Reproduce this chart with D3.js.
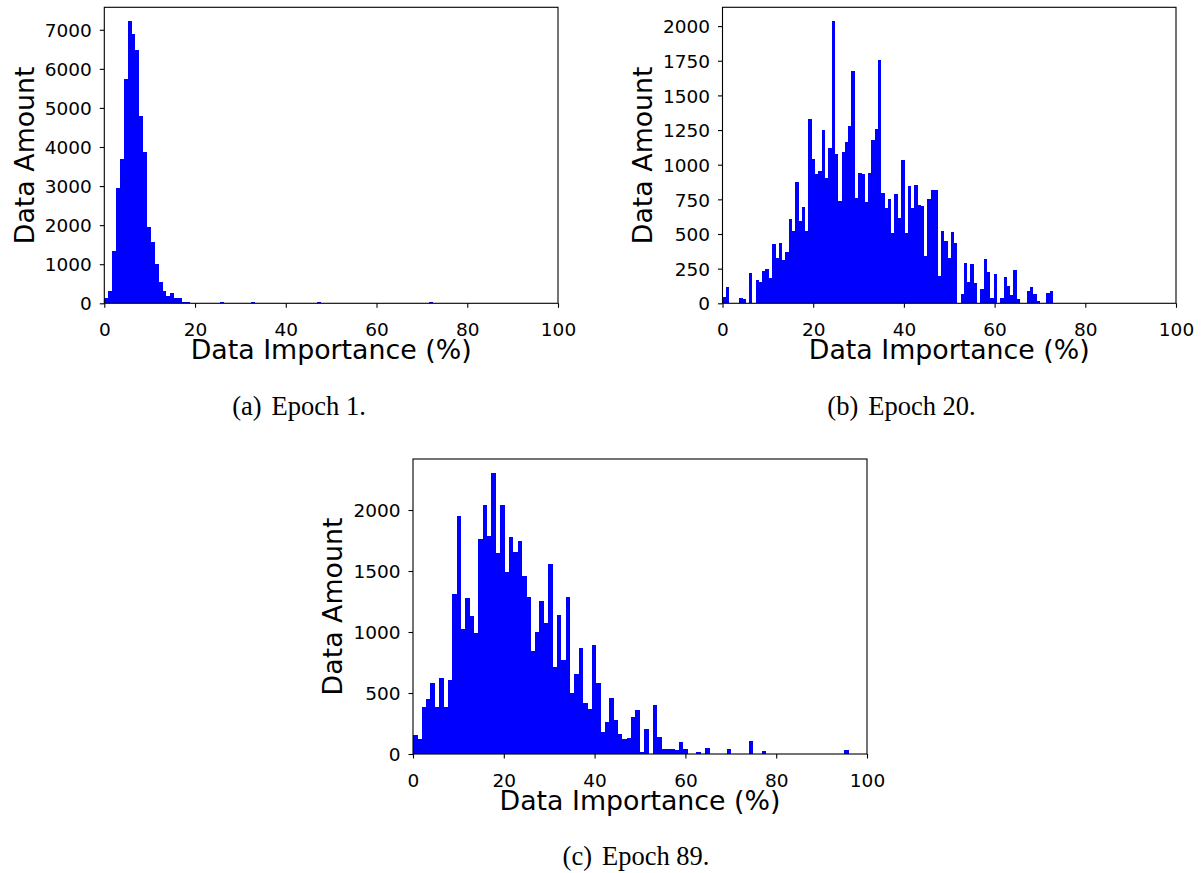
<!DOCTYPE html>
<html>
<head>
<meta charset="utf-8">
<script src="https://cdn.jsdelivr.net/npm/d3@7"></script>
<style>
  html, body { margin: 0; padding: 0; background: #fff; }
  svg { display: block; }
</style>
</head>
<body>
<svg id="chart" width="1203" height="873"></svg>
<script>
// ---------------- DATA ----------------
const xTickValues = [0, 20, 40, 60, 80, 100];

const yTicksEpoch1 = [0, 1000, 2000, 3000, 4000, 5000, 6000, 7000];
const yTicksEpoch20 = [0, 250, 500, 750, 1000, 1250, 1500, 1750, 2000];
const yTicksEpoch89 = [0, 500, 1000, 1500, 2000];

// histogram ranges (% importance) — 100 equal bins each
const rangeEpoch1 = [0, 85.3];
const rangeEpoch20 = [0, 72.9];
const rangeEpoch89 = [0, 96.0];

const countsEpoch1 = [
  128, 316, 1342, 2949, 3701, 5752, 7214, 6880, 6470, 4803,
  3880, 1957, 1564, 1009, 547, 316, 188, 265, 137, 137,
  34, 34, 0, 0, 0, 0, 0, 0, 0, 0,
  25, 0, 0, 0, 0, 0, 0, 0, 25, 0,
  0, 0, 0, 0, 0, 0, 0, 0, 0, 0,
  0, 0, 0, 0, 0, 25, 0, 0, 0, 0,
  0, 0, 0, 0, 0, 0, 0, 0, 0, 0,
  0, 0, 0, 0, 0, 0, 0, 0, 0, 0,
  0, 0, 0, 0, 25, 0, 0, 0, 0, 0,
  0, 0, 0, 0, 0, 0, 0, 0, 0, 1
];

const countsEpoch20 = [
  48, 120, 0, 0, 0, 39, 31, 0, 219, 0,
  169, 154, 234, 248, 183, 429, 328, 436, 313, 371,
  610, 523, 877, 595, 696, 523, 1333, 1043, 935, 957,
  1253, 906, 1123, 2034, 1080, 740, 1094, 1166, 1282, 1673,
  762, 942, 935, 733, 942, 1181, 1260, 1759, 798, 689,
  754, 509, 790, 617, 1036, 509, 848, 689, 856, 711,
  704, 342, 754, 819, 819, 198, 523, 451, 328, 516,
  436, 0, 67, 292, 154, 284, 147, 0, 104, 321,
  227, 39, 212, 0, 39, 190, 125, 60, 241, 31,
  0, 0, 89, 118, 67, 17, 0, 0, 75, 89
];

const countsEpoch89 = [
  156, 123, 385, 451, 582, 385, 623, 385, 607, 1311,
  1951, 1025, 1279, 1131, 992, 1762, 2041, 1787, 2303, 1648,
  2041, 1492, 1779, 1656, 1746, 1459, 1287, 844, 1000, 1254,
  1074, 1557, 713, 1139, 770, 1287, 500, 656, 869, 418,
  369, 893, 582, 180, 262, 459, 279, 164, 123, 131,
  303, 361, 16, 205, 0, 402, 139, 41, 41, 41,
  33, 98, 41, 0, 0, 16, 0, 49, 0, 0,
  0, 0, 41, 0, 0, 0, 0, 107, 0, 0,
  25, 0, 0, 0, 0, 0, 0, 0, 0, 0,
  0, 0, 0, 0, 0, 0, 0, 0, 0, 33
];

const xLabel = "Data Importance (%)";
const yLabel = "Data Amount";
const captions = [["(a)", "Epoch 1."], ["(b)", "Epoch 20."], ["(c)", "Epoch 89."]];

// ---------------- LAYOUT ----------------
const panels = [
  { x0: 104.3, x1: 558, y0: 7.3, y1: 303.3, counts: countsEpoch1, range: rangeEpoch1, yTicks: yTicksEpoch1, cap: captions[0], capX: 299, capY: 415 },
  { x0: 722.5, x1: 1176, y0: 7.3, y1: 303.3, counts: countsEpoch20, range: rangeEpoch20, yTicks: yTicksEpoch20, cap: captions[1], capX: 901.5, capY: 415 },
  { x0: 413, x1: 867, y0: 459, y1: 754, counts: countsEpoch89, range: rangeEpoch89, yTicks: yTicksEpoch89, cap: captions[2], capX: 636, capY: 865 }
];

const svg = d3.select("#chart");

panels.forEach(p => {
  const g = svg.append("g");
  const x = d3.scaleLinear().domain([0, 100]).range([p.x0, p.x1]);
  const y = d3.scaleLinear().domain([0, d3.max(p.counts) * 1.05]).range([p.y1, p.y0]);
  const n = p.counts.length;
  const bw = (p.range[1] - p.range[0]) / n;
  const bins = p.counts.map((c, i) => ({ lo: p.range[0] + i * bw, hi: p.range[0] + (i + 1) * bw, c }));

  g.append("g")
    .attr("shape-rendering", "crispEdges")
    .selectAll("rect")
    .data(bins.filter(b => b.c > 0))
    .join("rect")
    .attr("x", b => x(b.lo))
    .attr("width", b => x(b.hi) - x(b.lo) + 0.2)
    .attr("y", b => y(b.c))
    .attr("height", b => y(0) - y(b.c))
    .attr("fill", "#0000ff");

  // x axis
  const xa = g.append("g")
    .attr("transform", `translate(0,${p.y1})`)
    .call(d3.axisBottom(x).tickValues(xTickValues).tickSize(4.5).tickSizeOuter(0));
  xa.select(".domain").remove();
  xa.selectAll(".tick line").attr("stroke", "#000").attr("stroke-width", 1.1);
  xa.selectAll(".tick text")
    .attr("font-family", "DejaVu Sans")
    .attr("font-size", 18.5)
    .attr("fill", "#000")
    .attr("dy", null)
    .attr("y", 33);

  // y axis
  const ya = g.append("g")
    .attr("transform", `translate(${p.x0},0)`)
    .call(d3.axisLeft(y).tickValues(p.yTicks).tickSize(4.5).tickSizeOuter(0).tickFormat(d3.format("d")));
  ya.select(".domain").remove();
  ya.selectAll(".tick line").attr("stroke", "#000").attr("stroke-width", 1.1);
  ya.selectAll(".tick text")
    .attr("font-family", "DejaVu Sans")
    .attr("font-size", 18.5)
    .attr("fill", "#000")
    .attr("x", -12.5)
    .attr("dy", "0.36em");

  // frame
  g.append("rect")
    .attr("x", p.x0).attr("y", p.y0)
    .attr("width", p.x1 - p.x0).attr("height", p.y1 - p.y0)
    .attr("fill", "none").attr("stroke", "#000").attr("stroke-width", 1.1);

  // axis labels
  const cx = (p.x0 + p.x1) / 2;
  g.append("text")
    .attr("x", cx).attr("y", p.y1 + 55.7)
    .attr("text-anchor", "middle")
    .attr("font-family", "DejaVu Sans")
    .attr("font-size", 26.8)
    .attr("fill", "#000")
    .text(xLabel);

  const cy = (p.y0 + p.y1) / 2;
  g.append("text")
    .attr("transform", `translate(${p.x0 - 70.8},${cy}) rotate(-90)`)
    .attr("text-anchor", "middle")
    .attr("font-family", "DejaVu Sans")
    .attr("font-size", 26.8)
    .attr("fill", "#000")
    .text(yLabel);

  // caption
  const t = svg.append("text")
    .attr("x", p.capX).attr("y", p.capY)
    .attr("text-anchor", "middle")
    .attr("font-family", "Liberation Serif")
    .attr("font-size", 26.5)
    .attr("fill", "#000");
  t.append("tspan").text(p.cap[0]);
  t.append("tspan").attr("dx", 10).text(p.cap[1]);
});
</script>
</body>
</html>
